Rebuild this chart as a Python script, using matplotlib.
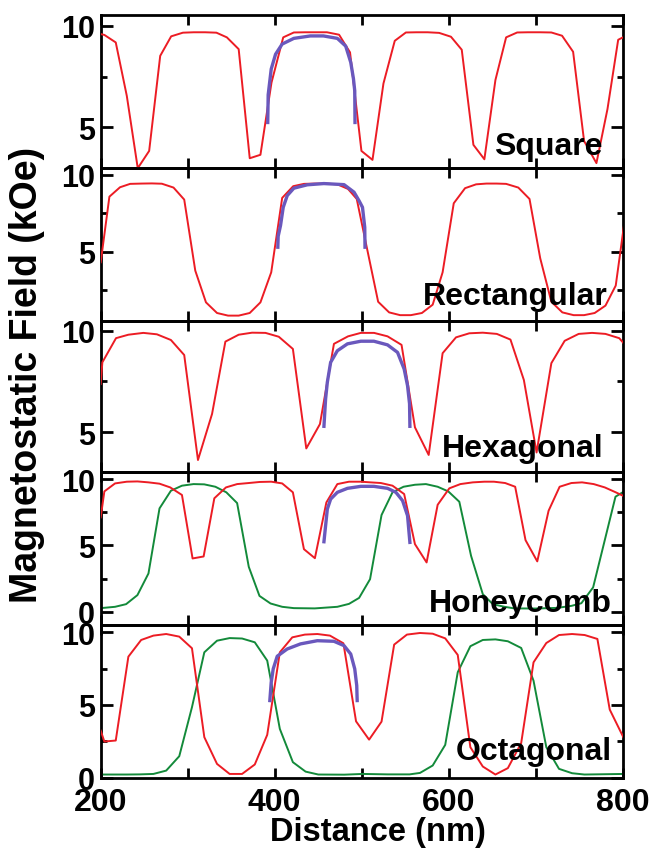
import matplotlib
matplotlib.use("Agg")
import matplotlib.pyplot as plt
from matplotlib.ticker import MultipleLocator, FixedLocator, FixedFormatter

plt.rcParams['font.family'] = ['Liberation Sans', 'DejaVu Sans']
plt.rcParams['font.weight'] = 'bold'

# ---------------- data ----------------
square_red_x = [200, 204.2, 217.3, 230, 242.6, 255.7, 268.4, 281, 294.5, 307, 320, 333, 345, 358.6, 371.3, 383.6,
                396.3, 409.8, 422, 435, 447, 460, 474, 486.6, 499.7, 512.4, 525, 538, 550.8, 563, 575.8, 589,
                602.6, 615, 628.4, 641, 653.7, 666, 678.7, 691, 705, 718, 730.3, 743, 755.6, 769.8, 782.5, 794.8, 801.7]
square_red_y = [9.59, 9.55, 9.18, 6.55, 2.99, 3.84, 8.52, 9.48, 9.66, 9.68, 9.68, 9.66, 9.43, 8.85, 3.48, 3.65,
                7.2, 9.43, 9.67, 9.68, 9.68, 9.68, 9.56, 8.69, 3.84, 3.40, 7.16, 9.26, 9.67, 9.68, 9.68, 9.65,
                9.46, 8.82, 4.14, 3.43, 7.33, 9.43, 9.67, 9.68, 9.68, 9.67, 9.51, 8.72, 4.33, 3.24, 5.9, 9.31, 9.46]
square_blue_x = [392, 392.5, 396, 401, 408.6, 422, 441, 456, 472, 481.6, 487.4, 490.5, 492, 492.3]
square_blue_y = [5.24, 6.6, 7.87, 8.6, 9.1, 9.38, 9.5, 9.5, 9.38, 9.0, 8.2, 7.4, 6.8, 5.24]

rect_red_x = [200, 210, 222.2, 233.8, 247.3, 258.8, 270.3, 283.7, 296, 308.7, 321, 333.7, 346.4, 358.6, 371.3,
              383.6, 396, 408.6, 421.3, 433.6, 446, 459, 472, 484.3, 494.3, 505.8, 518.9, 531.5, 544.2, 556.5,
              569.2, 581.6, 593, 605.8, 618.8, 631.5, 643.5, 655, 666, 680, 692.9, 705.2, 718, 730.6, 743.6,
              755.6, 767.8, 780.2, 792, 801.7]
rect_red_y = [4.31, 8.57, 9.18, 9.40, 9.42, 9.43, 9.41, 9.16, 8.38, 3.77, 1.71, 1.02, 0.85, 0.85, 1.02,
              1.71, 3.66, 8.49, 9.25, 9.4, 9.42, 9.42, 9.37, 9.07, 8.42, 5.29, 1.75, 1.06, 0.88, 0.88,
              1.02, 1.56, 3.66, 8.14, 9.12, 9.37, 9.42, 9.42, 9.4, 9.16, 8.42, 4.57, 1.75, 1.06, 0.88,
              0.88, 1.02, 1.5, 2.8, 6.8]
rect_blue_x = [403.6, 404, 406.7, 409.8, 414.4, 422, 437.5, 456.5, 479.7, 491.2, 497, 500.9, 503.5, 503.8]
rect_blue_y = [5.29, 6.0, 6.7, 7.88, 8.64, 9.12, 9.34, 9.42, 9.35, 8.86, 8.3, 7.88, 6.58, 5.29]

hex_red_x = [200, 201.9, 217.6, 231.8, 249, 264.6, 280.7, 296, 311.8, 328, 343.3, 358.6, 374, 389.4, 404.7,
             420.9, 436.3, 452, 468.1, 484.3, 499, 514.2, 529.7, 545.8, 561.2, 577, 593, 608.4, 623.7, 639.2,
             655.3, 671, 686.4, 701, 718, 733.3, 749.4, 764.8, 780.2, 796, 801.7]
hex_red_y = [7.37, 8.44, 9.63, 9.80, 9.89, 9.82, 9.54, 8.80, 3.63, 5.9, 9.46, 9.8, 9.9, 9.89, 9.7,
             9.1, 4.2, 5.4, 9.35, 9.72, 9.89, 9.89, 9.72, 9.3, 5.24, 3.88, 8.89, 9.67, 9.87, 9.9,
             9.84, 9.56, 7.57, 4.0, 8.4, 9.5, 9.84, 9.89, 9.84, 9.63, 9.35]
hex_blue_x = [456.6, 458.5, 460.5, 464.3, 472, 483.6, 499, 514, 529.7, 541.2, 548.8, 552.7, 555, 555.4]
hex_blue_y = [5.29, 6.64, 7.46, 8.44, 9.01, 9.35, 9.48, 9.48, 9.3, 8.93, 8.11, 7.29, 6.4, 5.29]

honey_red_x = [200, 204.2, 216.5, 230, 242.2, 254.9, 267.6, 279.9, 293.4, 305.6, 318.3, 330.6, 344, 356.8,
               370.2, 382.8, 396, 408.6, 420.9, 433.6, 446.2, 459.4, 472, 485.4, 499, 510, 522, 535.4, 548.8,
               561.2, 574.6, 587.3, 600.7, 613.4, 627.7, 641, 652, 664.9, 676.4, 688.3, 701.8, 714.8, 727.5,
               741, 753.3, 766.7, 779.4, 792, 801.7]
honey_red_y = [7.11, 9.07, 9.67, 9.8, 9.82, 9.75, 9.65, 9.37, 8.8, 4.02, 4.17, 8.55, 9.37, 9.62,
               9.7, 9.78, 9.8, 9.67, 9.0, 4.72, 4.04, 8.24, 9.62, 9.8, 9.8, 9.75, 9.7, 9.5, 8.87,
               5.1, 3.72, 8.06, 9.3, 9.62, 9.75, 9.8, 9.8, 9.7, 9.42, 5.4, 3.8, 7.61, 9.42,
               9.7, 9.75, 9.62, 9.37, 9.0, 8.7]
honey_green_x = [200, 216.5, 229.2, 242.2, 254.9, 267.6, 280.7, 293.4, 306.7, 319, 331.8, 344.4, 356.8, 370.2,
                 382.5, 395.2, 408.6, 422, 446, 472, 485.4, 497, 509.6, 522.8, 535.4, 548.1, 561.2, 573.8,
                 587.3, 599.5, 612.2, 625.7, 639.2, 650.7, 664.1, 675.5, 700, 725, 741, 752.5, 766, 779.4,
                 791.7, 801.7]
honey_green_y = [0.28, 0.38, 0.58, 1.26, 2.89, 7.79, 9.12, 9.5, 9.62, 9.6, 9.42, 9.0, 8.19, 3.39,
                 1.2, 0.63, 0.38, 0.28, 0.26, 0.38, 0.6, 1.05, 2.46, 7.29, 9.0, 9.42, 9.57, 9.62,
                 9.42, 9.07, 8.29, 4.22, 1.33, 0.58, 0.38, 0.26, 0.25, 0.3, 0.45, 0.65, 1.84, 5.4,
                 8.67, 9.07]
honey_blue_x = [456.6, 458.5, 460.5, 464.3, 472, 483.6, 499, 514, 529.7, 539.3, 547, 552.7, 555.4]
honey_blue_y = [5.28, 6.48, 7.74, 8.49, 9.0, 9.3, 9.45, 9.45, 9.3, 9.0, 8.37, 7.24, 5.23]

oct_red_x = [200, 204.2, 217.3, 231.8, 246.5, 260.6, 275.3, 290.3, 304.9, 319.1, 333.7, 348.2, 362.5, 377.1,
             391.4, 405.9, 420.2, 434.7, 449, 463.5, 479, 493.5, 508.5, 522.8, 537.3, 552, 567, 581.6, 596,
             610.4, 624.9, 639.2, 653.7, 668, 683.3, 697.5, 712.2, 726.8, 741.8, 756.3, 770.9, 785.1, 801.7]
oct_red_y = [3.23, 2.48, 2.55, 8.32, 9.47, 9.77, 9.88, 9.7, 8.9, 2.78, 0.94, 0.25, 0.25, 0.9,
             2.94, 8.62, 9.65, 9.84, 9.88, 9.77, 9.24, 3.87, 2.61, 3.85, 9.15, 9.84, 9.95, 9.9, 9.58,
             8.44, 2.09, 0.76, 0.21, 0.65, 2.37, 7.93, 9.26, 9.81, 9.88, 9.81, 9.54, 4.68, 2.66]
oct_green_x = [200, 230, 245, 260.6, 275.3, 290.3, 304.9, 319.1, 333.7, 348.2, 362.5, 377.1, 391.4, 405.9,
               420.9, 435.5, 450.1, 480, 500.9, 530, 555, 567, 581.6, 596, 610.4, 624.9, 639.2, 653.7, 668,
               683.3, 697.5, 712.2, 726.8, 741.8, 756, 801.7]
oct_green_y = [0.21, 0.21, 0.22, 0.25, 0.48, 1.47, 4.84, 8.62, 9.42, 9.6, 9.57, 9.31, 8.05, 3.35,
               1.06, 0.41, 0.21, 0.2, 0.25, 0.22, 0.22, 0.32, 0.83, 2.25, 7.25, 9.04, 9.47, 9.51, 9.38,
               8.92, 6.67, 2.09, 0.6, 0.3, 0.21, 0.25]
oct_blue_x = [394.4, 396, 398.3, 402.9, 414.4, 429.7, 449, 468.1, 479.7, 487.4, 492, 494.3, 494.8]
oct_blue_y = [5.3, 6.56, 7.48, 8.35, 8.85, 9.2, 9.42, 9.38, 9.08, 8.5, 7.48, 6.33, 5.3]

panel_names = ["Square", "Rectangular", "Hexagonal", "Honeycomb", "Octagonal"]
ytick_labels = [[5, 10], [5, 10], [5, 10], [0, 5, 10], [0, 5, 10]]
xtick_positions = [200, 300, 400, 500, 600, 700, 800]
xtick_labels = [200, 400, 600, 800]

# ---------------- layout ----------------
W, H = 651, 854
fig = plt.figure(figsize=(W / 100, H / 100), dpi=100)

left_px, right_px = 100.7, 622.7
edges_px = [16, 169, 321.7, 473, 626, 779.3]
ylims = [(3.0, 10.53), (0.52, 10.43), (3.04, 10.49), (-0.99, 10.53), (-0.05, 10.5)]
label_pos = [(603, 155), (608, 305), (603, 456.7), (612, 611.7), (612, 760)]

RED = '#ec1c24'
GREEN = '#138a3a'
BLUE = '#6a58bd'

series = [
    (None, None, square_red_x, square_red_y, square_blue_x, square_blue_y),
    (None, None, rect_red_x, rect_red_y, rect_blue_x, rect_blue_y),
    (None, None, hex_red_x, hex_red_y, hex_blue_x, hex_blue_y),
    (honey_green_x, honey_green_y, honey_red_x, honey_red_y, honey_blue_x, honey_blue_y),
    (oct_green_x, oct_green_y, oct_red_x, oct_red_y, oct_blue_x, oct_blue_y),
]

for i in range(5):
    top, bot = edges_px[i], edges_px[i + 1]
    ax = fig.add_axes([left_px / W, 1 - bot / H, (right_px - left_px) / W, (bot - top) / H])
    gx, gy, rx, ry, bx, by = series[i]
    if gx is not None:
        ax.plot(gx, gy, color=GREEN, lw=1.4, zorder=2)
    ax.plot(rx, ry, color=RED, lw=1.4, zorder=3)
    ax.plot(bx, by, color=BLUE, lw=2.4, zorder=4)
    ax.set_xlim(200, 800)
    ax.set_ylim(*ylims[i])
    ax.xaxis.set_major_locator(FixedLocator(xtick_positions))
    if i < 4:
        ax.xaxis.set_major_formatter(FixedFormatter([''] * len(xtick_positions)))
    else:
        ax.xaxis.set_major_formatter(FixedFormatter(
            [str(v) if v in xtick_labels else '' for v in xtick_positions]))
    ax.yaxis.set_major_locator(FixedLocator(ytick_labels[i]))
    ax.yaxis.set_major_formatter(FixedFormatter([str(v) for v in ytick_labels[i]]))
    ax.yaxis.set_minor_locator(MultipleLocator(2.5))
    ax.tick_params(axis='both', which='both', direction='in', top=True, right=True, width=2)
    ax.tick_params(axis='y', which='major', length=8.5, labelsize=22, pad=4)
    ax.tick_params(axis='y', which='minor', length=4.5)
    ax.tick_params(axis='x', which='major', length=7, labelsize=23, pad=6)
    for sp in ax.spines.values():
        sp.set_linewidth(2)
    for lab in ax.get_xticklabels() + ax.get_yticklabels():
        lab.set_fontweight('bold')
    ax.patch.set_alpha(0)
    lx, ly = label_pos[i]
    fig.text(lx / W, 1 - ly / H, panel_names[i], ha='right', va='baseline',
             fontsize=23, fontweight='bold', zorder=10)

fig.text(378 / W, 1 - 833 / H, "Distance (nm)", ha='center', va='center', fontsize=23.5, fontweight='bold')
fig.text(27 / W, 1 - 375 / H, "Magnetostatic Field (kOe)", ha='center', va='center', rotation=90,
         fontsize=27, fontweight='bold')

fig.savefig("out.png", dpi=100)
